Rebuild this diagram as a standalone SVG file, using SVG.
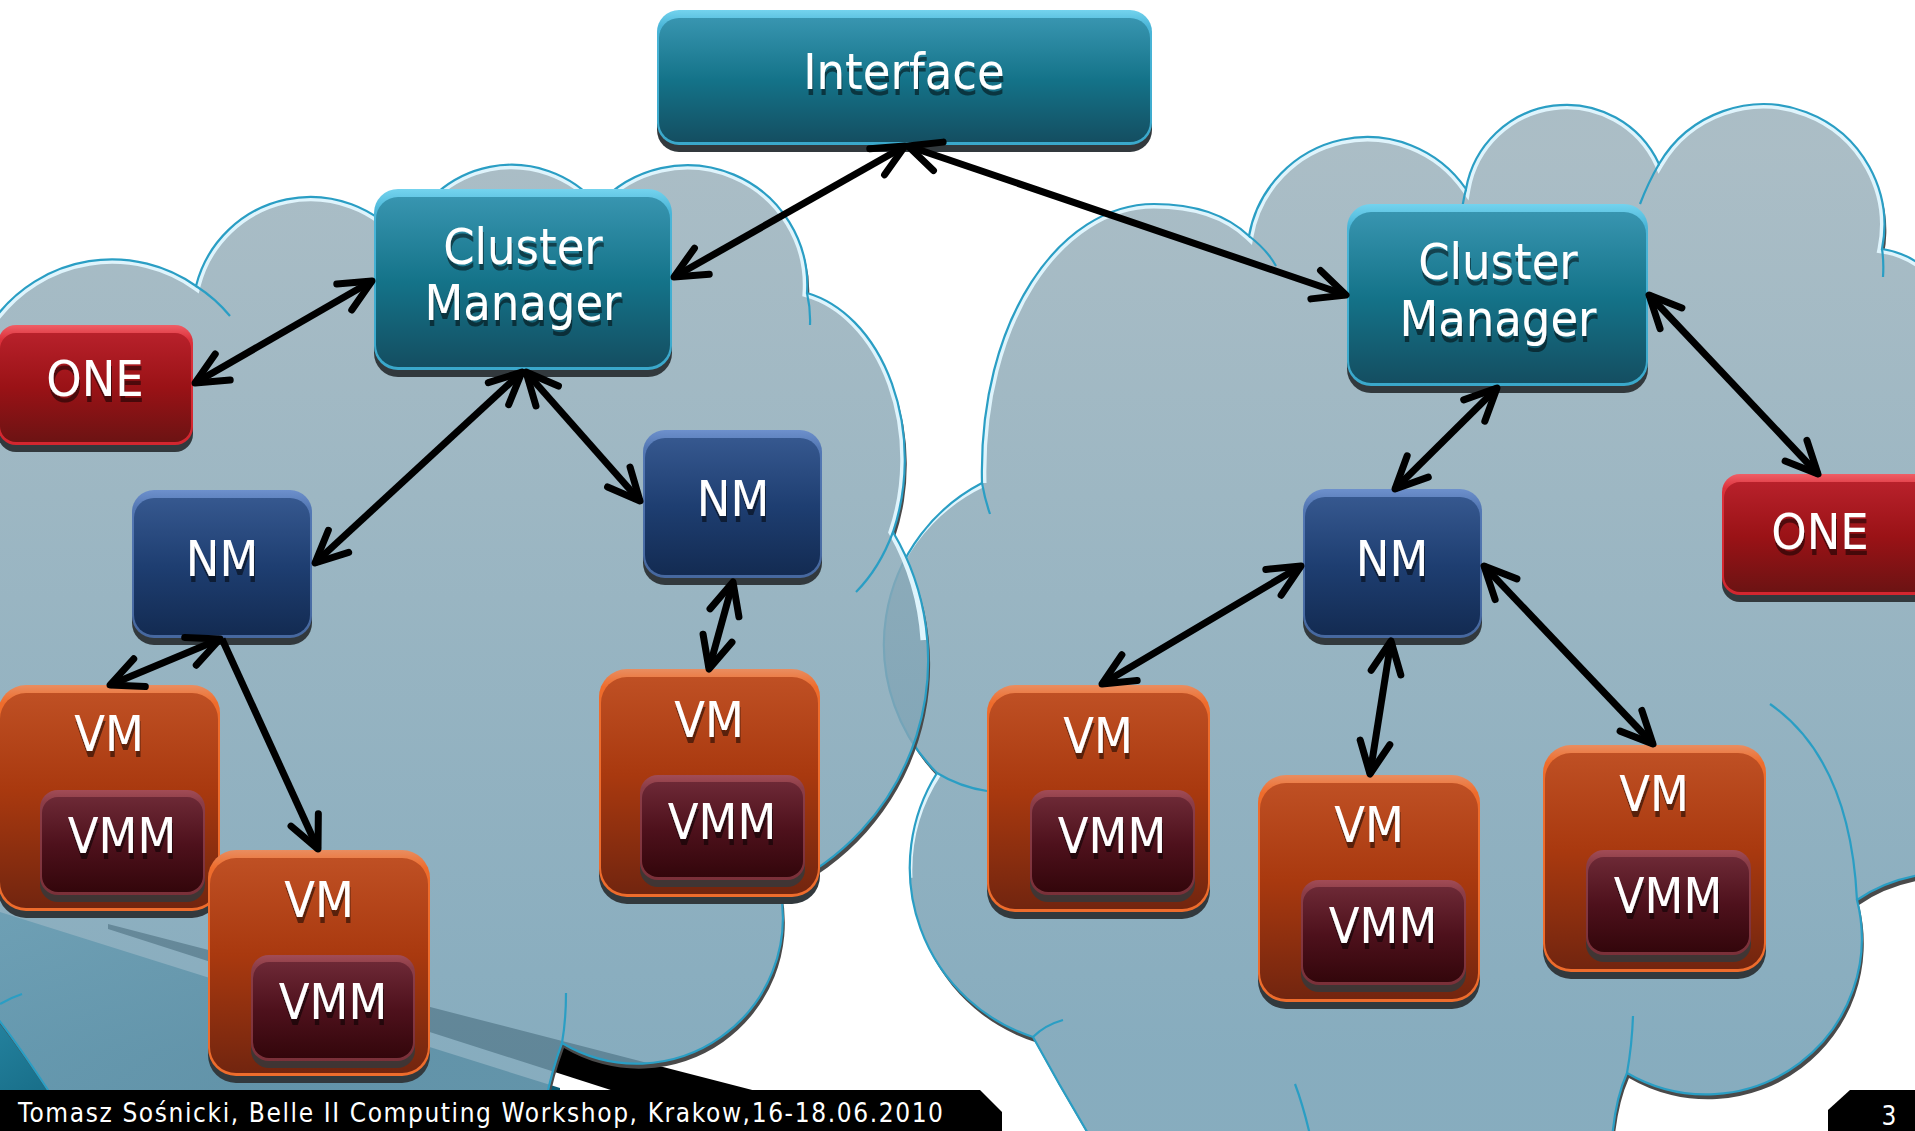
<svg xmlns="http://www.w3.org/2000/svg" width="1915" height="1131" viewBox="0 0 1915 1131">
<defs>
<style>
.lbl{font-family:'DejaVu Sans Condensed','DejaVu Sans',sans-serif;font-stretch:condensed;font-size:50px;fill:#fff;text-anchor:middle;filter:url(#ts)}
.foot{font-family:'DejaVu Sans Condensed','DejaVu Sans',sans-serif;font-stretch:condensed;font-size:26px;fill:#fff}
.sh{fill:#32393d}
.tO{fill:url(#oTeal)}.tI{fill:url(#gTeal)}
.nO{fill:url(#oNavy)}.nI{fill:url(#gNavy)}
.rO{fill:url(#oRed)}.rI{fill:url(#gRed)}
.vO{fill:url(#oOrange)}.vI{fill:url(#gOrange)}
.mO{fill:url(#oVmm)}.mI{fill:url(#gVmm)}
.cfill{fill:url(#gCloud);fill-opacity:.85}
.cshadow{fill:#4a4a4a}
.chl{fill:none;stroke:#dff4fc;stroke-width:9}
.cline{fill:none;stroke:#2a9ec4;stroke-width:2.2}
.conn{fill:none;stroke:#000;stroke-width:7;marker-start:url(#ah);marker-end:url(#ah)}
.conn1{fill:none;stroke:#000;stroke-width:7;marker-end:url(#ah)}
</style>
<filter id="ts" x="-10%" y="-20%" width="130%" height="160%">
<feOffset in="SourceAlpha" dx="1" dy="6" result="o"/>
<feFlood flood-color="#000" flood-opacity="0.5"/>
<feComposite in2="o" operator="in" result="s"/>
<feMerge><feMergeNode in="s"/><feMergeNode in="SourceGraphic"/></feMerge>
</filter>
<marker id="ah" markerUnits="userSpaceOnUse" orient="auto-start-reverse" markerWidth="40" markerHeight="40" refX="0" refY="0" overflow="visible">
<path d="M-32,-15 L0,0 L-32,15" fill="none" stroke="#000" stroke-width="7" stroke-linecap="round" stroke-linejoin="round"/>
</marker>
<linearGradient id="gTeal" x1="0" y1="0" x2="0" y2="1"><stop offset="0" stop-color="#3895b0"/><stop offset="0.5" stop-color="#147389"/><stop offset="1" stop-color="#144e61"/></linearGradient>
<linearGradient id="oTeal" x1="0" y1="0" x2="0" y2="1"><stop offset="0" stop-color="#74d3ee"/><stop offset="0.12" stop-color="#4bb6d8"/><stop offset="1" stop-color="#3aa8cb"/></linearGradient>
<linearGradient id="gNavy" x1="0" y1="0" x2="0" y2="1"><stop offset="0" stop-color="#36588f"/><stop offset="0.5" stop-color="#1e3e71"/><stop offset="1" stop-color="#132b52"/></linearGradient>
<linearGradient id="oNavy" x1="0" y1="0" x2="0" y2="1"><stop offset="0" stop-color="#6d90cc"/><stop offset="0.12" stop-color="#5478b4"/><stop offset="1" stop-color="#46689f"/></linearGradient>
<linearGradient id="gRed" x1="0" y1="0" x2="0" y2="1"><stop offset="0" stop-color="#b8212b"/><stop offset="0.5" stop-color="#9a1216"/><stop offset="1" stop-color="#6c1313"/></linearGradient>
<linearGradient id="oRed" x1="0" y1="0" x2="0" y2="1"><stop offset="0" stop-color="#ef5e66"/><stop offset="0.12" stop-color="#dc323c"/><stop offset="1" stop-color="#d2262f"/></linearGradient>
<linearGradient id="gOrange" x1="0" y1="0" x2="0" y2="1"><stop offset="0" stop-color="#bf5024"/><stop offset="0.45" stop-color="#a9390f"/><stop offset="1" stop-color="#72250f"/></linearGradient>
<linearGradient id="oOrange" x1="0" y1="0" x2="0" y2="1"><stop offset="0" stop-color="#e98d60"/><stop offset="0.08" stop-color="#ee6c2c"/><stop offset="1" stop-color="#ee6c2c"/></linearGradient>
<linearGradient id="gVmm" x1="0" y1="0" x2="0" y2="1"><stop offset="0" stop-color="#6d2936"/><stop offset="0.5" stop-color="#4e111c"/><stop offset="1" stop-color="#33060b"/></linearGradient>
<linearGradient id="oVmm" x1="0" y1="0" x2="0" y2="1"><stop offset="0" stop-color="#a24c56"/><stop offset="0.12" stop-color="#8b3d47"/><stop offset="1" stop-color="#7a3039"/></linearGradient>
<linearGradient id="gCloud" gradientUnits="userSpaceOnUse" x1="0" y1="150" x2="0" y2="1050"><stop offset="0" stop-color="#9cb2bc"/><stop offset="1" stop-color="#729eb3"/></linearGradient>
<linearGradient id="gTealBg" gradientUnits="userSpaceOnUse" x1="0" y1="910" x2="150" y2="1131"><stop offset="0" stop-color="#3196b4"/><stop offset="1" stop-color="#0b5a73"/></linearGradient>
<path id="pL" d="M-5,318 A146,146 0 0 1 196,286 A118,118 0 0 1 404,243 A113,113 0 0 1 598,205 A120,120 0 0 1 807,293 A123,170 0 0 1 893,532 A251,251 0 0 1 780,889 A146,146 0 0 1 562,1043 Q552,1070 546,1100 L546,1140 L80,1140 Q30,1060 -5,1015 Z"/>
<path id="pR" d="M982,483 C978,320 1060,204 1154,204 C1200,204 1230,218 1249,236 A120,120 0 0 1 1466,189 A102,102 0 0 1 1659,164 A121,121 0 0 1 1882,249 Q1905,252 1925,268 L1925,874 Q1885,880 1857,900 A156,156 0 0 1 1627,1073 Q1615,1100 1612,1140 L1092,1140 Q1062,1090 1033,1037 A178,178 0 0 1 937,773 A182,182 0 0 1 982,483 Z"/>
<clipPath id="cL"><use href="#pL"/></clipPath>
<clipPath id="cR"><use href="#pR"/></clipPath>
<mask id="mL" maskUnits="userSpaceOnUse" x="0" y="0" width="1915" height="1131"><rect width="1915" height="1131" fill="#fff"/><use href="#pL" fill="#000"/></mask>
<mask id="mR" maskUnits="userSpaceOnUse" x="0" y="0" width="1915" height="1131"><rect width="1915" height="1131" fill="#fff"/><use href="#pR" fill="#000"/></mask>
</defs>

<rect width="1915" height="1131" fill="#fff"/>
<g id="background">
<polygon points="0,912 560,1088 560,1092 0,1092" fill="url(#gTealBg)"/>
<polygon points="108,924 760,1092 617,1092 108,929" fill="#000"/>
</g>

<g id="cloud-right">
<g mask="url(#mR)"><use href="#pR" class="cshadow" transform="translate(2,5)"/></g>
<use href="#pR" class="cfill"/>
<g clip-path="url(#cR)"><path class="chl" d="M982,483 C978,320 1060,204 1154,204 C1200,204 1230,218 1249,236 A120,120 0 0 1 1466,189 A102,102 0 0 1 1659,164 A121,121 0 0 1 1882,249 Q1905,252 1925,268 M880,625 A182,182 0 0 1 982,483 M908,878 A178,178 0 0 1 937,773"/></g>
<use href="#pR" class="cline"/>
<path class="cline" d="M1249,236 C1262,246 1270,255 1276,266 M1466,189 Q1462,205 1460,225 M1659,164 Q1648,183 1640,204 M1882,249 Q1884,262 1883,277 M1770,704 Q1850,760 1857,900 M1633,1016 Q1632,1045 1627,1073 M1295,1084 Q1303,1105 1310,1135 M1033,1037 Q1045,1025 1063,1020 M937,773 Q960,787 987,791 M982,483 Q985,500 990,514"/>
</g>

<g id="cloud-left">
<g mask="url(#mL)"><use href="#pL" class="cshadow" transform="translate(2,5)"/></g>
<use href="#pL" class="cfill"/>
<g clip-path="url(#cL)"><path class="chl" d="M-5,318 A146,146 0 0 1 196,286 A118,118 0 0 1 404,243 A113,113 0 0 1 598,205 A120,120 0 0 1 807,293 A123,170 0 0 1 893,532 A251,251 0 0 1 925,640"/></g>
<use href="#pL" class="cline"/>
<path class="cline" d="M196,286 A146,146 0 0 1 230,316 M807,293 A120,120 0 0 1 810,325 M893,532 A123,170 0 0 1 856,592 M566,993 Q566,1020 562,1043 M0,1004 Q10,998 22,994"/>
</g>

<g id="node-interface">
<rect class="sh" x="657" y="17" width="495" height="135" rx="22"/>
<rect class="tO" x="657" y="10" width="495" height="135" rx="22"/>
<rect class="tI" x="659" y="18" width="491" height="124" rx="20"/>
<text class="lbl" x="904" y="89">Interface</text>
</g>

<g id="node-cm-left">
<rect class="sh" x="374" y="196" width="298" height="181" rx="24"/>
<rect class="tO" x="374" y="189" width="298" height="181" rx="24"/>
<rect class="tI" x="376" y="197" width="294" height="170" rx="22"/>
<text class="lbl" x="523" y="264">Cluster</text>
<text class="lbl" x="523" y="320">Manager</text>
</g>

<g id="node-cm-right">
<rect class="sh" x="1347" y="211" width="301" height="182" rx="24"/>
<rect class="tO" x="1347" y="204" width="301" height="182" rx="24"/>
<rect class="tI" x="1349" y="212" width="297" height="171" rx="22"/>
<text class="lbl" x="1498" y="279">Cluster</text>
<text class="lbl" x="1498" y="336">Manager</text>
</g>

<g id="node-one-left">
<rect class="sh" x="-2" y="332" width="195" height="120" rx="18"/>
<rect class="rO" x="-2" y="325" width="195" height="120" rx="18"/>
<rect class="rI" x="0" y="333" width="191" height="109" rx="16"/>
<text class="lbl" x="95" y="396">ONE</text>
</g>

<g id="node-one-right">
<rect class="sh" x="1722" y="481" width="210" height="121" rx="18"/>
<rect class="rO" x="1722" y="474" width="210" height="121" rx="18"/>
<rect class="rI" x="1724" y="482" width="206" height="110" rx="16"/>
<text class="lbl" x="1820" y="549">ONE</text>
</g>

<g id="node-nm-left">
<rect class="sh" x="132" y="497" width="180" height="148" rx="22"/>
<rect class="nO" x="132" y="490" width="180" height="148" rx="22"/>
<rect class="nI" x="134" y="498" width="176" height="137" rx="20"/>
<text class="lbl" x="222" y="576">NM</text>
</g>

<g id="node-nm-mid">
<rect class="sh" x="643" y="437" width="179" height="148" rx="22"/>
<rect class="nO" x="643" y="430" width="179" height="148" rx="22"/>
<rect class="nI" x="645" y="438" width="175" height="137" rx="20"/>
<text class="lbl" x="733" y="516">NM</text>
</g>

<g id="node-nm-right">
<rect class="sh" x="1303" y="496" width="179" height="149" rx="22"/>
<rect class="nO" x="1303" y="489" width="179" height="149" rx="22"/>
<rect class="nI" x="1305" y="497" width="175" height="138" rx="20"/>
<text class="lbl" x="1392" y="576">NM</text>
</g>

<g id="node-vm-l1">
<rect class="sh" x="-2" y="692" width="222" height="226" rx="28"/>
<rect class="vO" x="-2" y="685" width="222" height="226" rx="28"/>
<rect class="vI" x="0" y="693" width="218" height="215" rx="26"/>
<text class="lbl" x="109" y="751">VM</text>
<rect class="sh" x="40" y="797" width="165" height="105" rx="18" opacity="0.8"/>
<rect class="mO" x="40" y="790" width="165" height="105" rx="18"/>
<rect class="mI" x="42" y="797" width="161" height="95" rx="16"/>
<text class="lbl" x="122" y="853">VMM</text>
</g>

<g id="node-vm-l2">
<rect class="sh" x="208" y="857" width="222" height="226" rx="28"/>
<rect class="vO" x="208" y="850" width="222" height="226" rx="28"/>
<rect class="vI" x="210" y="858" width="218" height="215" rx="26"/>
<text class="lbl" x="319" y="917">VM</text>
<rect class="sh" x="251" y="962" width="164" height="106" rx="18" opacity="0.8"/>
<rect class="mO" x="251" y="955" width="164" height="106" rx="18"/>
<rect class="mI" x="253" y="962" width="160" height="96" rx="16"/>
<text class="lbl" x="333" y="1019">VMM</text>
</g>

<g id="node-vm-l3">
<rect class="sh" x="599" y="676" width="221" height="228" rx="28"/>
<rect class="vO" x="599" y="669" width="221" height="228" rx="28"/>
<rect class="vI" x="601" y="677" width="217" height="217" rx="26"/>
<text class="lbl" x="709" y="737">VM</text>
<rect class="sh" x="640" y="782" width="165" height="105" rx="18" opacity="0.8"/>
<rect class="mO" x="640" y="775" width="165" height="105" rx="18"/>
<rect class="mI" x="642" y="782" width="161" height="95" rx="16"/>
<text class="lbl" x="722" y="839">VMM</text>
</g>

<g id="node-vm-r1">
<rect class="sh" x="987" y="692" width="223" height="227" rx="28"/>
<rect class="vO" x="987" y="685" width="223" height="227" rx="28"/>
<rect class="vI" x="989" y="693" width="219" height="216" rx="26"/>
<text class="lbl" x="1098" y="753">VM</text>
<rect class="sh" x="1030" y="797" width="165" height="105" rx="18" opacity="0.8"/>
<rect class="mO" x="1030" y="790" width="165" height="105" rx="18"/>
<rect class="mI" x="1032" y="797" width="161" height="95" rx="16"/>
<text class="lbl" x="1112" y="853">VMM</text>
</g>

<g id="node-vm-r2">
<rect class="sh" x="1258" y="782" width="222" height="227" rx="28"/>
<rect class="vO" x="1258" y="775" width="222" height="227" rx="28"/>
<rect class="vI" x="1260" y="783" width="218" height="216" rx="26"/>
<text class="lbl" x="1369" y="842">VM</text>
<rect class="sh" x="1301" y="887" width="165" height="105" rx="18" opacity="0.8"/>
<rect class="mO" x="1301" y="880" width="165" height="105" rx="18"/>
<rect class="mI" x="1303" y="887" width="161" height="95" rx="16"/>
<text class="lbl" x="1383" y="943">VMM</text>
</g>

<g id="node-vm-r3">
<rect class="sh" x="1543" y="752" width="223" height="227" rx="28"/>
<rect class="vO" x="1543" y="745" width="223" height="227" rx="28"/>
<rect class="vI" x="1545" y="753" width="219" height="216" rx="26"/>
<text class="lbl" x="1654" y="811">VM</text>
<rect class="sh" x="1586" y="857" width="165" height="105" rx="18" opacity="0.8"/>
<rect class="mO" x="1586" y="850" width="165" height="105" rx="18"/>
<rect class="mI" x="1588" y="857" width="161" height="95" rx="16"/>
<text class="lbl" x="1668" y="913">VMM</text>
</g>

<g id="connectors">
<path class="conn" d="M674,277 L905,146"/>
<path class="conn" d="M908,146 L1346,295"/>
<path class="conn" d="M372,281 L195,383"/>
<path class="conn" d="M522,372 L315,563"/>
<path class="conn" d="M526,372 L640,501"/>
<path class="conn" d="M733,582 L709,669"/>
<path class="conn" d="M220,639 L110,685"/>
<path class="conn1" d="M222,639 L318,849"/>
<path class="conn" d="M1497,388 L1395,489"/>
<path class="conn" d="M1649,295 L1818,474"/>
<path class="conn" d="M1301,566 L1102,684"/>
<path class="conn" d="M1391,641 L1370,774"/>
<path class="conn" d="M1484,566 L1653,744"/>
</g>

<g id="footer">
<polygon points="0,1090 980,1090 1002,1112 1002,1131 0,1131" fill="#000"/>
<polygon points="1850,1090 1915,1090 1915,1131 1828,1131 1828,1110" fill="#000"/>
<text class="foot" x="18" y="1122" textLength="925" lengthAdjust="spacing">Tomasz Sośnicki, Belle II Computing Workshop, Krakow,16-18.06.2010</text>
<text class="foot" x="1889" y="1125" text-anchor="middle" font-size="28">3</text>
</g>
</svg>
